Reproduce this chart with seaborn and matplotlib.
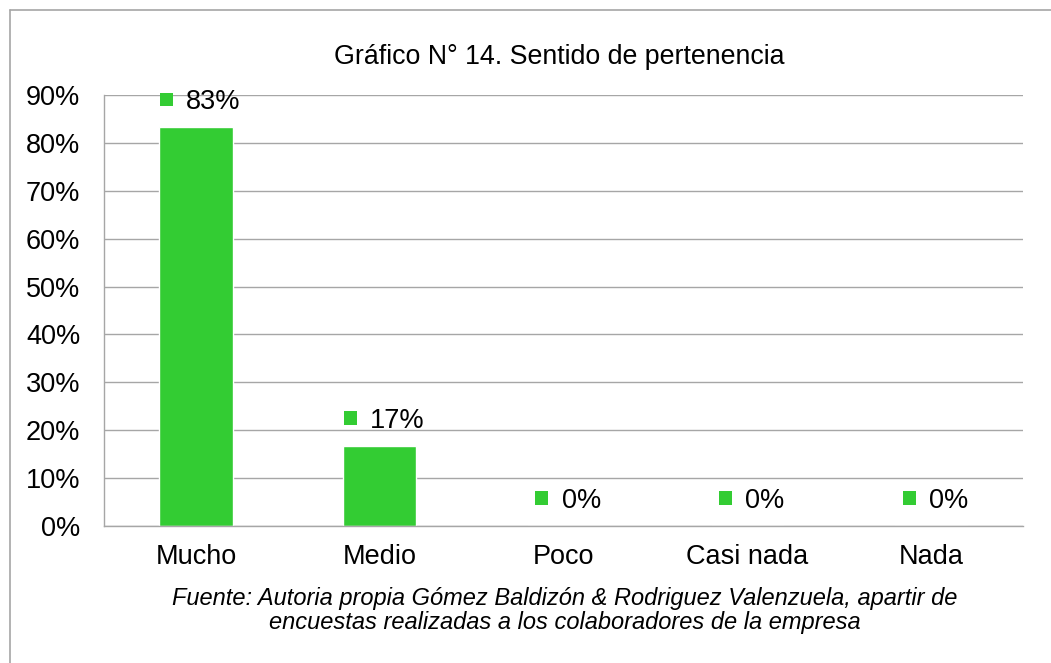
import seaborn as sns
import matplotlib.pyplot as plt
import matplotlib.ticker as mtick
from matplotlib.lines import Line2D
from matplotlib.patches import Rectangle
from matplotlib.offsetbox import DrawingArea, TextArea, HPacker, AnnotationBbox
import pandas as pd

categorias = ['Mucho', 'Medio', 'Poco', 'Casi nada', 'Nada']
valores = [0.833, 0.167, 0.0, 0.0, 0.0]
etiquetas = ['83%', '17%', '0%', '0%', '0%']

verde = '#33CC33'
gris = '#A6A6A6'

sns.set_theme(style='white')
plt.rcParams['font.family'] = ['Liberation Sans', 'DejaVu Sans']
plt.rcParams['text.color'] = 'black'

df = pd.DataFrame({'cat': categorias, 'val': valores})

fig = plt.figure(figsize=(10.51, 6.63), dpi=100)
ax = fig.add_axes([104 / 1051, 1 - 526 / 663, (1023 - 104) / 1051, (526 - 95) / 663])

sns.barplot(data=df, x='cat', y='val', color=verde, width=0.4, saturation=1, ax=ax)

ax.set_xlim(-0.5, len(categorias) - 0.5)
ax.set_ylim(0, 0.9)
ax.set_yticks([i / 10 for i in range(10)])
ax.yaxis.set_major_formatter(mtick.PercentFormatter(1.0, decimals=0))
ax.yaxis.grid(True, color=gris, linewidth=1)
ax.set_axisbelow(True)
ax.set_xlabel('')
ax.set_ylabel('')
ax.tick_params(axis='both', length=0, labelsize=19.5, colors='black')
ax.tick_params(axis='y', pad=17)
ax.tick_params(axis='x', pad=13)
for s in ['top', 'right']:
    ax.spines[s].set_visible(False)
for s in ['left', 'bottom']:
    ax.spines[s].set_color(gris)
    ax.spines[s].set_linewidth(1)

# etiquetas de datos: cuadrito verde + valor, centrados sobre cada barra
for i, (v, t) in enumerate(zip(valores, etiquetas)):
    caja = DrawingArea(9.6, 9.6, 0, 2.1)
    caja.add_artist(Rectangle((0, 0), 9.6, 9.6, facecolor=verde, edgecolor='none'))
    texto = TextArea(t, textprops=dict(fontsize=19.5, color='black'))
    grupo = HPacker(children=[caja, texto], align='center', pad=0, sep=9.5)
    ab = AnnotationBbox(grupo, (i, v), xybox=(3.2, 18), xycoords='data',
                        boxcoords='offset points', frameon=False,
                        box_alignment=(0.5, 0.5), annotation_clip=False)
    ax.add_artist(ab)

fig.text(559 / 1051, 1 - 57 / 663, 'Gráfico N° 14. Sentido de pertenencia',
         ha='center', va='center', fontsize=19.3, color='black')
fig.text(565 / 1051, 1 - 598 / 663,
         'Fuente: Autoria propia Gómez Baldizón & Rodriguez Valenzuela, apartir de',
         ha='center', va='center', fontsize=17, style='italic', color='black')
fig.text(565 / 1051, 1 - 622 / 663,
         'encuestas realizadas a los colaboradores de la empresa',
         ha='center', va='center', fontsize=17, style='italic', color='black')

fig.add_artist(Line2D([10 / 1051, 10 / 1051], [0, 1 - 10 / 663], color=gris, linewidth=1.2,
                      transform=fig.transFigure))
fig.add_artist(Line2D([10 / 1051, 1], [1 - 10 / 663, 1 - 10 / 663], color=gris, linewidth=1.2,
                      transform=fig.transFigure))

fig.savefig('out.png', dpi=100)
